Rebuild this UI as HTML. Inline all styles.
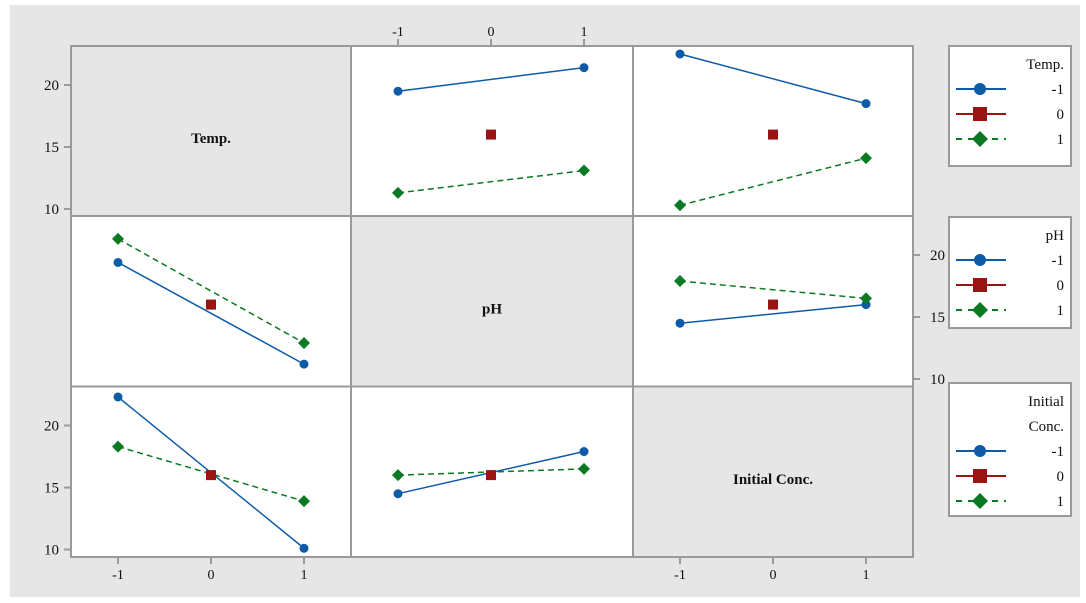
<!DOCTYPE html>
<html><head><meta charset="utf-8"><style>
body{margin:0;background:#fff;width:1086px;height:603px;overflow:hidden}
svg{display:block;font-family:"Liberation Serif",serif}
</style></head><body>
<svg id="c" width="1086" height="603">
<rect x="10" y="5" width="1070" height="592" fill="#e6e6e6"/>
</svg>
<script>
const factors = ["Temp.", "pH", "Initial Conc."];
const levels = [-1, 0, 1];
const yTicks = [10, 15, 20];
const xTickLabels = ["-1", "0", "1"];
const p01_neg = [19.5, 21.4]; const p01_center = 16.0; const p01_pos = [11.3, 13.1];
const p02_neg = [22.5, 18.5]; const p02_center = 16.0; const p02_pos = [10.3, 14.1];
const p10_neg = [19.4, 11.2]; const p10_center = 16.0; const p10_pos = [21.3, 12.9];
const p12_neg = [14.5, 16.0]; const p12_center = 16.0; const p12_pos = [17.9, 16.5];
const p20_neg = [22.3, 10.1]; const p20_center = 16.0; const p20_pos = [18.3, 13.9];
const p21_neg = [14.5, 17.9]; const p21_center = 16.0; const p21_pos = [16.0, 16.5];

const NS="http://www.w3.org/2000/svg", svg=document.getElementById('c');
function el(t,a,p){const e=document.createElementNS(NS,t);for(const k in a)e.setAttribute(k,a[k]);(p||svg).appendChild(e);return e;}
const colX=[71,351,633,913], rowY=[46,216,386.5,557];
const BLUE="#0d5aa7", RED="#9b1414", GREEN="#0a7a22", GRID="#9a9a9a";
function sx(c,v){return colX[c]+47+(v+1)*93;}
function sy(r,v){return rowY[r]+163-(v-10)*12.4;}
for(let r=0;r<3;r++)for(let c=0;c<3;c++){
  const g=el('rect',{x:colX[c],y:rowY[r],width:colX[c+1]-colX[c],height:rowY[r+1]-rowY[r],fill:r===c?'#e6e6e6':'#fff',stroke:GRID,'stroke-width':2});
  
  
  if(r===c){const t=el('text',{x:(colX[c]+colX[c+1])/2,y:(rowY[r]+rowY[r+1])/2+12,'text-anchor':'middle','font-weight':'bold','font-size':15,fill:'#111'});t.textContent=factors[r];
  
  }
}
function marker(type,x,y){let m;
  if(type===0)m=el('circle',{cx:x,cy:y,r:4.5,fill:BLUE});
  else if(type===1)m=el('rect',{x:x-5,y:y-5,width:10,height:10,fill:RED});
  else m=el('path',{d:`M${x} ${y-6}L${x+6} ${y}L${x} ${y+6}L${x-6} ${y}Z`,fill:GREEN});
  
  }
function panel(r,c,neg,center,pos){
  let l=el('line',{x1:sx(c,-1),y1:sy(r,neg[0]),x2:sx(c,1),y2:sy(r,neg[1]),stroke:BLUE,'stroke-width':1.5});
  
  
  l=el('line',{x1:sx(c,-1),y1:sy(r,pos[0]),x2:sx(c,1),y2:sy(r,pos[1]),stroke:GREEN,'stroke-width':1.5,'stroke-dasharray':'6,4'});
  
  
  marker(0,sx(c,-1),sy(r,neg[0]));marker(0,sx(c,1),sy(r,neg[1]));
  marker(2,sx(c,-1),sy(r,pos[0]));marker(2,sx(c,1),sy(r,pos[1]));
  marker(1,sx(c,0),sy(r,center));
}
panel(0,1,p01_neg,p01_center,p01_pos);panel(0,2,p02_neg,p02_center,p02_pos);
panel(1,0,p10_neg,p10_center,p10_pos);panel(1,2,p12_neg,p12_center,p12_pos);
panel(2,0,p20_neg,p20_center,p20_pos);panel(2,1,p21_neg,p21_center,p21_pos);
function yAxis(r,left){yTicks.forEach(v=>{const y=sy(r,v);
  const x=left?colX[0]:colX[3];
  const tk=el('line',{x1:x,x2:left?x-7:x+7,y1:y,y2:y,stroke:GRID,'stroke-width':2});
  
  
  const t=el('text',{x:left?x-12:x+17,y:y+5,'text-anchor':left?'end':'start','font-size':15,fill:'#111'});t.textContent=v;
  
  });}
yAxis(0,true);yAxis(2,true);yAxis(1,false);
function xAxis(c,top){levels.forEach((v,i)=>{const x=sx(c,v);const y=top?rowY[0]:rowY[3];
  const tk=el('line',{x1:x,x2:x,y1:y,y2:top?y-7:y+7,stroke:GRID,'stroke-width':2});
  
  
  const t=el('text',{x:x,y:top?y-10:y+22,'text-anchor':'middle','font-size':14,fill:'#111'});t.textContent=xTickLabels[i];
  
  });}
xAxis(1,true);xAxis(0,false);xAxis(2,false);
function legend(y0,h,titleLines,name){
  const g=el('g',{});
  
  
  el('rect',{x:949,y:y0,width:122,height:h,fill:'#fff',stroke:GRID,'stroke-width':2},g);
  titleLines.forEach((s,i)=>{const t=el('text',{x:1064,y:y0+23+i*25,'text-anchor':'end','font-size':15,fill:'#111'},g);t.textContent=s;});
  const base=y0+23+titleLines.length*25-5;
  const cols=[BLUE,RED,GREEN];
  levels.forEach((v,i)=>{const y=base+i*25;
    el('line',{x1:956,x2:1006,y1:y,y2:y,stroke:cols[i],'stroke-width':2,'stroke-dasharray':i===2?'6,6':'none'},g);
    if(i===0)el('circle',{cx:980,cy:y,r:6,fill:BLUE},g);
    else if(i===1)el('rect',{x:973,y:y-7,width:14,height:14,fill:RED},g);
    else el('path',{d:`M980 ${y-8}L988 ${y}L980 ${y+8}L972 ${y}Z`,fill:GREEN},g);
    const t=el('text',{x:1064,y:y+5,'text-anchor':'end','font-size':15,fill:'#111'},g);t.textContent=String(v);});
}
legend(46,120,["Temp."],"legend-temp");
legend(217,111,["pH"],"legend-ph");
legend(383,133,["Initial","Conc."],"legend-initial-conc");
</script>
</body></html>
